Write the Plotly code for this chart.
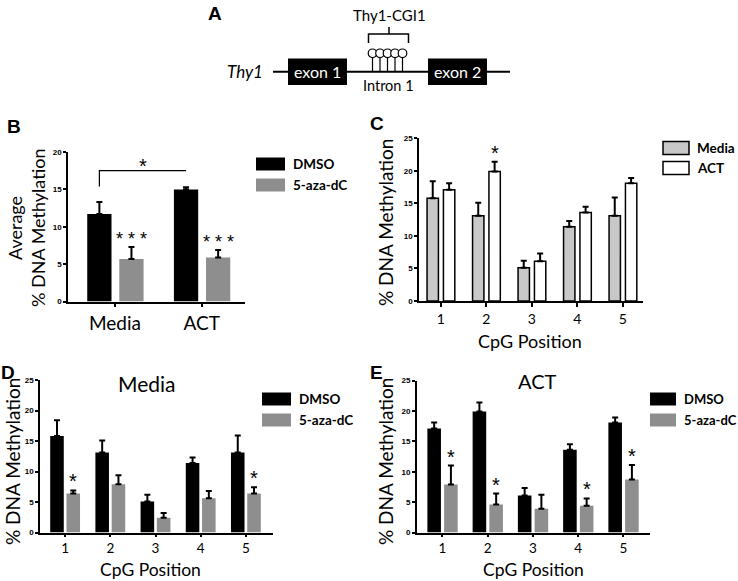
import plotly.graph_objects as go

W, H = 738, 581

# ---------------- data ----------------
positions = [1, 2, 3, 4, 5]
groups = ['Media', 'ACT']

avg_dmso = [11.7, 15.0]
avg_dmso_err = [1.6, 0.3]
avg_aza = [5.7, 5.9]
avg_aza_err = [1.6, 1.0]

media_dmso = [15.8, 13.1, 5.1, 11.4, 13.1]
media_dmso_err = [2.6, 2.0, 1.1, 0.9, 2.8]
act_dmso = [17.1, 19.9, 6.1, 13.6, 18.1]
act_dmso_err = [1.0, 1.5, 1.2, 0.9, 0.8]
media_aza = [6.4, 7.9, 2.4, 5.6, 6.4]
media_aza_err = [0.5, 1.5, 0.8, 1.2, 1.0]
act_aza = [7.9, 4.6, 3.9, 4.4, 8.7]
act_aza_err = [3.1, 1.8, 2.3, 1.2, 2.4]

sig_b_aza = ['* * *', '* * *']
sig_c_act = ['', '*', '', '', '']
sig_d_aza = ['*', '', '', '', '*']
sig_e_aza = ['*', '*', '', '*', '*']

# ---------------- style ----------------
BLACK = '#000000'
GRAY = '#8e8e8e'
LIGHT = '#c8c8c8'
WHITE = '#ffffff'
FONT = 'Lato'
TICKFONT = dict(family='Liberation Sans', size=8, color='black', weight='bold')


def X(px):
    return px / W


def Y(py):
    return 1 - py / H


def bar(x, y, err, xa, ya, color, offset, width, lw=0):
    return go.Bar(
        x=x, y=y, xaxis=xa, yaxis=ya, offset=offset, width=width,
        marker=dict(color=color, line=dict(color='black', width=lw)),
        showlegend=False, hoverinfo='skip',
        error_y=dict(type='data', array=err, arrayminus=[0] * len(err),
                     symmetric=False, color='black', thickness=2, width=3),
    )


fig = go.Figure()

# Panel B
BW = 0.28
fig.add_trace(bar(groups, avg_dmso, avg_dmso_err, 'x', 'y', BLACK, -0.32, BW))
fig.add_trace(bar(groups, avg_aza, avg_aza_err, 'x', 'y', GRAY, 0.05, BW))
# Panel C
CW = 0.25
fig.add_trace(bar(positions, media_dmso, media_dmso_err, 'x2', 'y2', LIGHT, -0.3, CW, 1.5))
fig.add_trace(bar(positions, act_dmso, act_dmso_err, 'x2', 'y2', WHITE, 0.06, CW, 1.5))
# Panel D
DW = 0.3
fig.add_trace(bar(positions, media_dmso, media_dmso_err, 'x3', 'y3', BLACK, -0.33, DW))
fig.add_trace(bar(positions, media_aza, media_aza_err, 'x3', 'y3', GRAY, 0.03, DW))
# Panel E
fig.add_trace(bar(positions, act_dmso, act_dmso_err, 'x4', 'y4', BLACK, -0.33, DW))
fig.add_trace(bar(positions, act_aza, act_aza_err, 'x4', 'y4', GRAY, 0.04, DW))

common = dict(showline=True, linecolor='black', linewidth=1.5, ticks='outside',
              tickcolor='black', tickwidth=1.5, showgrid=False, zeroline=False,
              fixedrange=True, automargin=False)
xcommon = dict(common, ticklen=4, tickfont=dict(family=FONT, size=14, color='black'))
xlow = dict(xcommon, ticklen=3, tickfont=dict(family=FONT, size=13.5, color='black'))
ycommon = dict(common, ticklen=3, tickfont=TICKFONT, dtick=5)

layout = dict(
    width=W, height=H, margin=dict(l=0, r=0, t=0, b=0),
    plot_bgcolor='white', paper_bgcolor='white', barmode='overlay',
    showlegend=False,
    xaxis=dict(xcommon, domain=[X(68), X(245)], anchor='y', type='category',
               range=[-0.542, 1.5], tickfont=dict(family=FONT, size=19, color='black')),
    yaxis=dict(ycommon, domain=[Y(301.5), Y(152)], anchor='x', range=[0, 20]),
    xaxis2=dict(xcommon, domain=[X(419), X(643)], anchor='y2', range=[0.523, 5.446],
                tickvals=positions),
    yaxis2=dict(ycommon, domain=[Y(301), Y(138.3)], anchor='x2', range=[0, 25]),
    xaxis3=dict(xlow, domain=[X(40), X(273)], anchor='y3', range=[0.444, 5.6],
                tickvals=positions),
    yaxis3=dict(ycommon, domain=[Y(532.5), Y(380)], anchor='x3', range=[0, 25]),
    xaxis4=dict(xlow, domain=[X(416.7), X(650)], anchor='y4', range=[0.434, 5.59],
                tickvals=positions),
    yaxis4=dict(ycommon, domain=[Y(532.5), Y(380.5)], anchor='x4', range=[0, 25]),
)
fig.update_layout(**layout)

shapes = []
ann = []


def text(px, py, s, size, bold=False, italic=False, color='black', angle=0, family=FONT,
         xanchor='center'):
    ann.append(dict(x=X(px), y=Y(py), xref='paper', yref='paper', text=s, showarrow=False,
                    xanchor=xanchor, yanchor='middle', textangle=angle,
                    font=dict(family=family, size=size, color=color,
                              weight='bold' if bold else 'normal',
                              style='italic' if italic else 'normal')))


def rect(x0, y0, x1, y1, fill, line='black', lw=0):
    shapes.append(dict(type='rect', xref='paper', yref='paper', x0=X(x0), x1=X(x1),
                       y0=Y(y0), y1=Y(y1), fillcolor=fill,
                       line=dict(color=line, width=lw)))


def line(x0, y0, x1, y1, lw=1.5):
    shapes.append(dict(type='line', xref='paper', yref='paper', x0=X(x0), x1=X(x1),
                       y0=Y(y0), y1=Y(y1), line=dict(color='black', width=lw)))


# ---------------- panel A schematic ----------------
text(215, 14, 'A', 19, bold=True, family='Liberation Sans')
line(273, 71.7, 510, 71.7, 2)
rect(288, 58.5, 347, 85, BLACK)
rect(428, 58.5, 487, 85, BLACK)
text(317.5, 71.5, 'exon 1', 16, color='white')
text(457.5, 71.5, 'exon 2', 16, color='white')
text(245, 71, 'Thy1', 17, italic=True)
text(388, 86, 'Intron 1', 14.5)
text(389, 15, 'Thy1-CGI1', 15)
n_cpg = 5
for i in range(n_cpg):
    cx = 372.5 + i * 7.5
    line(cx, 57.5, cx, 71.7, 1.2)
    shapes.append(dict(type='circle', xref='paper', yref='paper', x0=X(cx - 4.3), x1=X(cx + 4.3),
                       y0=Y(57.6), y1=Y(49), fillcolor='white',
                       line=dict(color='black', width=1.2)))
# bracket
shapes.append(dict(type='path', xref='paper', yref='paper',
                   path=f'M {X(368.5)} {Y(43)} L {X(368.5)} {Y(34)} L {X(408.5)} {Y(34)} L {X(408.5)} {Y(43)}',
                   line=dict(color='black', width=1.5)))
line(389, 34, 389, 27, 1.5)

# ---------------- panel labels ----------------
text(14, 126, 'B', 19, bold=True, family='Liberation Sans')
text(377, 124, 'C', 19, bold=True, family='Liberation Sans')
text(8, 372, 'D', 19, bold=True, family='Liberation Sans')
text(377, 372, 'E', 19, bold=True, family='Liberation Sans')

# ---------------- axis titles ----------------
text(15, 228, 'Average', 18, angle=-90)
text(38, 228, '% DNA Methylation', 18, angle=-90)
text(386, 222, '% DNA Methylation', 19, angle=-90)
text(530, 341, 'CpG Position', 18)
text(12, 462, '% DNA Methylation', 19, angle=-90)
text(150, 569, 'CpG Position', 17.5)
text(385, 462, '% DNA Methylation', 19, angle=-90)
text(533, 569, 'CpG Position', 17.5)
text(147, 383, 'Media', 21)
text(537, 381, 'ACT', 20)

# ---------------- legends ----------------
def legend_item(x0, yc, fill, label, lw=0, w=29, size=13.5):
    rect(x0, yc - 6.5, x0 + w, yc + 6.5, fill, lw=lw)
    text(x0 + w + 6, yc, label, size, bold=True, family=FONT, xanchor='left')


legend_item(256, 164, BLACK, 'DMSO')
legend_item(256, 185, GRAY, '5-aza-dC')
legend_item(663, 148, LIGHT, 'Media', 1.5, 26)
legend_item(663, 168, WHITE, 'ACT', 1.5, 26)
legend_item(262, 399, BLACK, 'DMSO')
legend_item(262, 420, GRAY, '5-aza-dC')
legend_item(650, 399, BLACK, 'DMSO', w=26, size=13)
legend_item(650, 420, GRAY, '5-aza-dC', w=26, size=13)

# ---------------- significance ----------------
def stars(xs, tops, errs, marks, offset, width, xa, ya, size=20):
    for xv, t, e, m in zip(xs, tops, errs, marks):
        if not m:
            continue
        xc = (groups.index(xv) if isinstance(xv, str) else xv) + offset + width / 2
        ann.append(dict(x=xc, y=t + e, xref=xa, yref=ya, text=m, showarrow=False,
                        xanchor='center', yanchor='bottom', yshift=-4,
                        font=dict(family='Liberation Sans', size=size, color='black')))


stars(groups, avg_aza, avg_aza_err, sig_b_aza, 0.05, BW, 'x', 'y', size=18)
stars(positions, act_dmso, act_dmso_err, sig_c_act, 0.06, CW, 'x2', 'y2')
stars(positions, media_aza, media_aza_err, sig_d_aza, 0.03, DW, 'x3', 'y3')
stars(positions, act_aza, act_aza_err, sig_e_aza, 0.04, DW, 'x4', 'y4')

# bracket in panel B (Media DMSO vs ACT DMSO)
bx0 = 0 - 0.32 + BW / 2
bx1 = 1 - 0.32 + BW / 2
shapes.append(dict(type='path', xref='x', yref='y',
                   path=f'M {bx0} 15.4 L {bx0} 17.5 L {bx1} 17.5',
                   line=dict(color='black', width=1.2)))
ann.append(dict(x=(bx0 + bx1) / 2, y=17.5, xref='x', yref='y', text='*', showarrow=False,
                xanchor='center', yanchor='bottom', yshift=-8,
                font=dict(family='Liberation Sans', size=20, color='black')))

fig.update_layout(shapes=shapes, annotations=ann)
fig.write_html('out.html', config={'displayModeBar': False},
               post_script="document.body.style.margin='0';document.body.style.overflow='hidden';")
